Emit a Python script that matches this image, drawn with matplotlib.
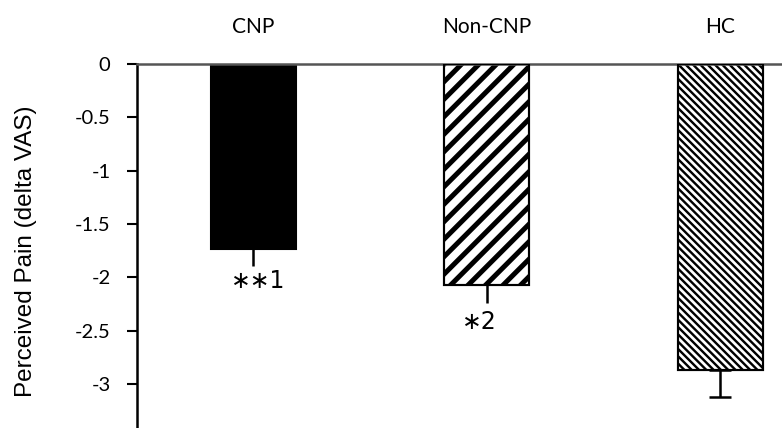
import numpy as np
import matplotlib.pyplot as plt
import matplotlib.transforms as mtransforms
from matplotlib.lines import Line2D

plt.close('all')

# data
groups = ['CNP', 'Non-CNP', 'HC']
means = [-1.735, -2.07, -2.87]
sems = [0.16, 0.17, 0.25]
marks = ['\u2217\u22171', '\u22172']
mark_y = [-2.03, -2.42]

DPI = 100
fig = plt.figure(figsize=(7.82, 4.28), dpi=DPI)
ax = fig.add_axes([137/782, 0.0, 1 - 137/782, 1 - 64/428])
ax.set_xlim(-0.499, 2.265)
ax.set_ylim(-3.41, 0)


def stripes(ax, patch, period, lw, direction):
    # diagonal stripes in pixel space, clipped to the bar
    bb = patch.get_window_extent()
    h = bb.height
    for c in np.arange(bb.x0 - h - period, bb.x1 + period, period):
        if direction == '/':
            xs, ys = [c, c + h], [bb.y0, bb.y1]
        else:
            xs, ys = [c, c + h], [bb.y1, bb.y0]
        ln = ax.add_line(Line2D(xs, ys, transform=mtransforms.IdentityTransform(),
                                color='black', linewidth=lw * 72 / DPI, zorder=2.5))
        ln.set_clip_path(patch)


x = np.arange(len(groups))
width = 0.365
fills = ['black', 'white', 'white']
hatch_style = [None, ('/', 17.5, 5.0), ('\\', 7.3, 2.4)]

for i in range(len(groups)):
    b = ax.bar(x[i], means[i], width, color=fills[i], edgecolor='black',
               linewidth=1.5, zorder=2)
    if hatch_style[i] is not None:
        d, per, lw = hatch_style[i]
        stripes(ax, b.patches[0], per, lw, d)
        # redraw edge on top of stripes
        ax.bar(x[i], means[i], width, fill=False, edgecolor='black', linewidth=1.5, zorder=2.6)
    cap = 8 if i == 2 else 0
    ax.errorbar(x[i], means[i], yerr=[[sems[i]], [0]], fmt='none', ecolor='black',
                elinewidth=1.8, capsize=cap, capthick=1.8, zorder=3)

# significance marks
ax.text(x[0] + 0.02, mark_y[0], marks[0], ha='center', va='center', fontsize=17,
        family='DejaVu Sans')
ax.text(x[1] - 0.03, mark_y[1], marks[1], ha='center', va='center', fontsize=17,
        family='DejaVu Sans')

ax.set_yticks([0, -0.5, -1, -1.5, -2, -2.5, -3])
ax.set_yticklabels(['0', '-0.5', '-1', '-1.5', '-2', '-2.5', '-3'], family='Lato', fontsize=14.5)
ax.tick_params(axis='y', direction='out', length=7, width=1.5, pad=12)
ax.set_xticks([])

for s in ['right', 'bottom']:
    ax.spines[s].set_visible(False)
ax.spines['left'].set_linewidth(1.8)
ax.spines['top'].set_linewidth(1.8)
ax.spines['top'].set_color('#555555')

# group labels above the zero line
trans = mtransforms.blended_transform_factory(ax.transData, ax.transAxes)
for i, g in enumerate(groups):
    ax.text(x[i], 1 + 37/364, g, transform=trans, ha='center', va='center',
            family='Lato', fontsize=15)

fig.text(26/782, 1 - 251.5/428, 'Perceived Pain (delta VAS)', rotation=90,
         ha='center', va='center', family='Liberation Sans', fontsize=17.5)

plt.savefig('out.png', dpi=DPI)
